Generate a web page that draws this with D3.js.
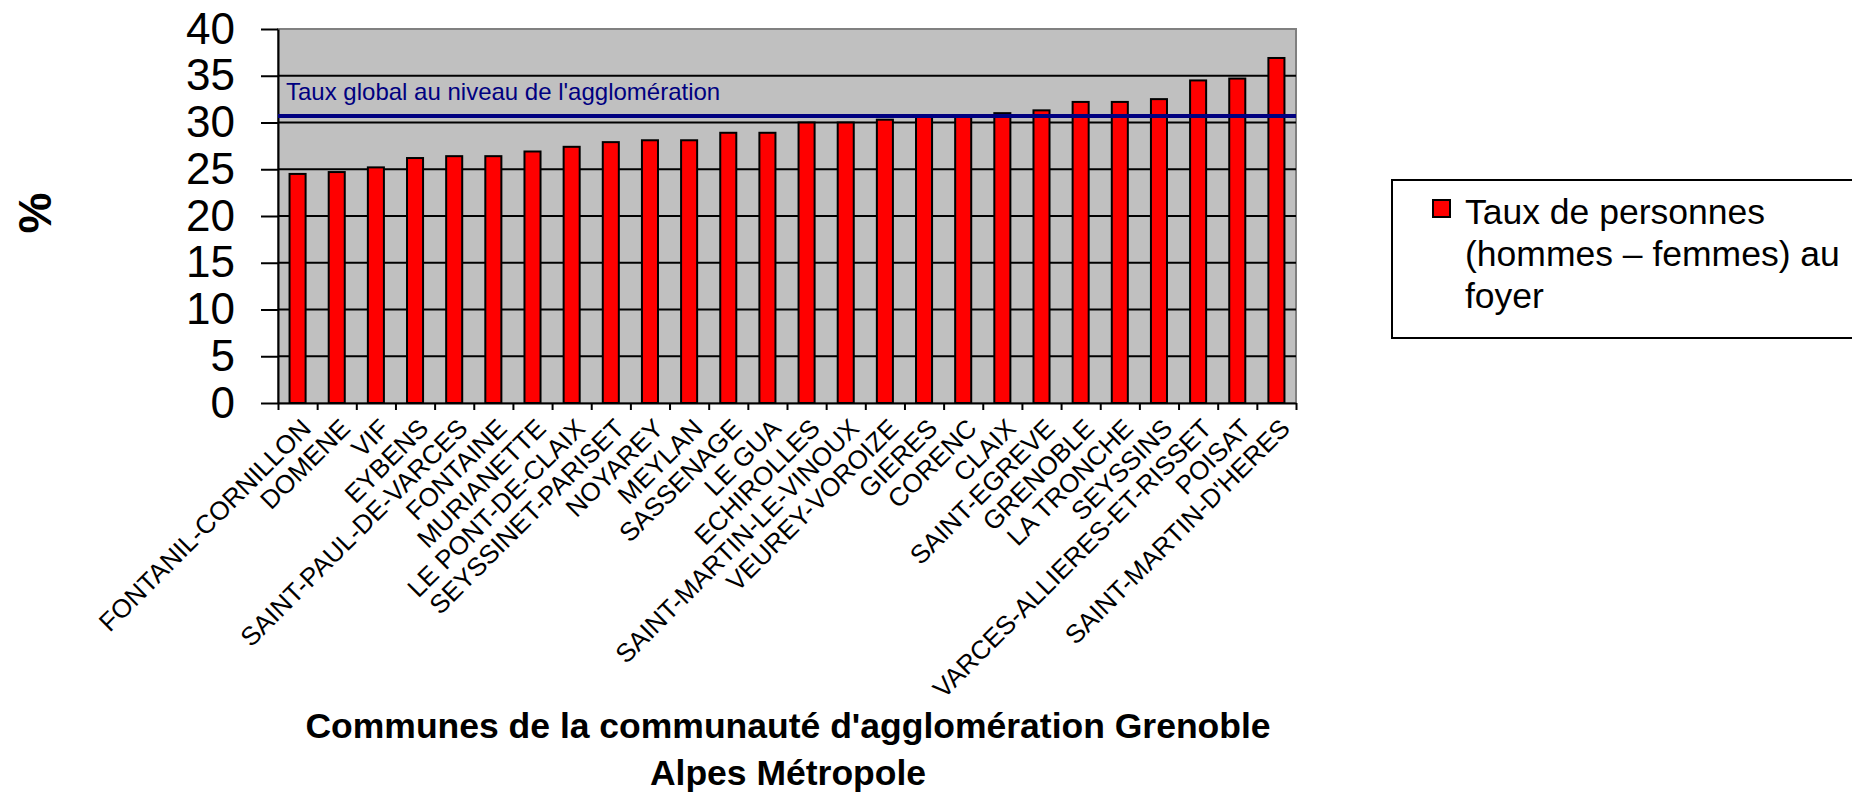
<!DOCTYPE html>
<html>
<head>
<meta charset="utf-8">
<script src="https://cdn.jsdelivr.net/npm/d3@7"></script>
<style>
  body{margin:0;background:#fff;}
  text{font-family:"Liberation Sans",Arial,sans-serif;}
</style>
</head>
<body>
<div id="container"></div>
<script>
let w=1852;
let h=794;

// communes, sorted like the original
let communes = ["FONTANIL-CORNILLON","DOMENE","VIF","EYBENS","SAINT-PAUL-DE-VARCES","FONTAINE",
  "MURIANETTE","LE PONT-DE-CLAIX","SEYSSINET-PARISET","NOYAREY","MEYLAN","SASSENAGE","LE GUA",
  "ECHIROLLES","SAINT-MARTIN-LE-VINOUX","VEUREY-VOROIZE","GIERES","CORENC","CLAIX","SAINT-EGREVE",
  "GRENOBLE","LA TRONCHE","SEYSSINS","VARCES-ALLIERES-ET-RISSET","POISAT","SAINT-MARTIN-D'HERES"];

// taux de personnes au foyer (%)
let taux = [24.5,24.7,25.2,26.2,26.4,26.4,26.9,27.4,27.9,28.1,28.1,28.9,28.9,
  30.0,30.0,30.3,30.6,30.7,31.0,31.3,32.2,32.2,32.5,34.5,34.7,36.9];

let tauxGlobal = 30.7;
let yTicks = [0,5,10,15,20,25,30,35,40];

let legendLines = ["Taux de personnes","(hommes \u2013 femmes) au","foyer"];
let titleLines = ["Communes de la communaut\u00e9 d'agglom\u00e9ration Grenoble","Alpes M\u00e9tropole"];

let plotLeft=278, plotRight=1296, plotTop=29, plotBottom=403;

let viz = d3.select("#container")
  .append("svg")
    .attr("width",w)
    .attr("height",h)
    .style("background-color","#fff")
;

let x = d3.scaleBand()
  .domain(communes)
  .range([plotLeft,plotRight])
  .paddingInner(0.59)
  .paddingOuter(0.295)
;

// category boundaries, for the little ticks under the axis
let xSlots = d3.scaleLinear().domain([0,communes.length]).range([plotLeft,plotRight]);

let y = d3.scaleLinear().domain([0,40]).range([plotBottom,plotTop]);

// grey plot area
viz.append("rect")
  .attr("x",plotLeft)
  .attr("y",plotTop)
  .attr("width",plotRight-plotLeft)
  .attr("height",plotBottom-plotTop)
  .attr("fill","#c0c0c0")
  .attr("stroke","#808080")
  .attr("stroke-width",2)
;

// gridlines
viz.selectAll(".grid").data(yTicks.filter(d=>d>0 && d<40)).enter()
  .append("line")
    .attr("class","grid")
    .attr("x1",plotLeft)
    .attr("x2",plotRight)
    .attr("y1",d=>y(d))
    .attr("y2",d=>y(d))
    .attr("stroke","#000")
    .attr("stroke-width",2)
;

// bars
viz.selectAll(".bar").data(communes).enter()
  .append("rect")
    .attr("class","bar")
    .attr("x",d=>x(d))
    .attr("y",(d,i)=>y(taux[i]))
    .attr("width",x.bandwidth())
    .attr("height",(d,i)=>y(0)-y(taux[i]))
    .attr("fill","#ff0000")
    .attr("stroke","#000")
    .attr("stroke-width",2)
;

// y axis
let yAxis = viz.append("g")
  .attr("transform","translate("+plotLeft+",0)")
  .call(d3.axisLeft(y).tickValues(yTicks).tickSize(17).tickPadding(26).tickSizeOuter(0))
;
yAxis.select(".domain").attr("stroke","#000").attr("stroke-width",2);
yAxis.selectAll(".tick line").attr("stroke","#000").attr("stroke-width",2);
yAxis.selectAll(".tick text")
  .attr("fill","#000")
  .style("font-size","44px")
  .style("font-family","'Liberation Sans',Arial,sans-serif")
;

// x axis, ticks between categories
let xAxis = viz.append("g")
  .attr("transform","translate(0,"+plotBottom+")")
  .call(d3.axisBottom(xSlots).tickValues(d3.range(communes.length+1)).tickSize(7).tickFormat("").tickSizeOuter(0))
;
xAxis.select(".domain").attr("stroke","#000").attr("stroke-width",2);
xAxis.selectAll(".tick line").attr("stroke","#000").attr("stroke-width",2);

viz.selectAll(".xlabel").data(communes).enter()
  .append("text")
    .attr("class","xlabel")
    .attr("transform",d=>"translate("+(x(d)+x.bandwidth()/2+2)+",417) rotate(-45)")
    .attr("text-anchor","end")
    .attr("dy","0.71em")
    .style("font-size","26px")
    .attr("fill","#000")
    .text(d=>d)
;

// ligne du taux global
viz.append("line")
  .attr("x1",plotLeft)
  .attr("x2",plotRight)
  .attr("y1",y(tauxGlobal))
  .attr("y2",y(tauxGlobal))
  .attr("stroke","#000080")
  .attr("stroke-width",4)
;
viz.append("text")
  .attr("x",286)
  .attr("y",100)
  .attr("fill","#000080")
  .style("font-size","24px")
  .text("Taux global au niveau de l'agglom\u00e9ration")
;

// axis titles
viz.append("text")
  .attr("transform","translate(51,213) rotate(-90)")
  .attr("text-anchor","middle")
  .style("font-size","46px")
  .style("font-weight","bold")
  .text("%")
;

viz.selectAll(".title").data(titleLines).enter()
  .append("text")
    .attr("class","title")
    .attr("x",788)
    .attr("y",(d,i)=>738+i*47)
    .attr("text-anchor","middle")
    .style("font-size","35.5px")
    .style("font-weight","bold")
    .text(d=>d)
;

// legend
let legend = viz.append("g");
legend.append("rect")
  .attr("x",1392)
  .attr("y",180)
  .attr("width",520)
  .attr("height",158)
  .attr("fill","#fff")
  .attr("stroke","#000")
  .attr("stroke-width",2)
;
legend.append("rect")
  .attr("x",1433)
  .attr("y",200)
  .attr("width",17)
  .attr("height",17)
  .attr("fill","#ff0000")
  .attr("stroke","#000")
  .attr("stroke-width",2)
;
legend.selectAll(".legendtext").data(legendLines).enter()
  .append("text")
    .attr("class","legendtext")
    .attr("x",1465)
    .attr("y",(d,i)=>224+i*42)
    .style("font-size","35.5px")
    .text(d=>d)
;
</script>
</body>
</html>
